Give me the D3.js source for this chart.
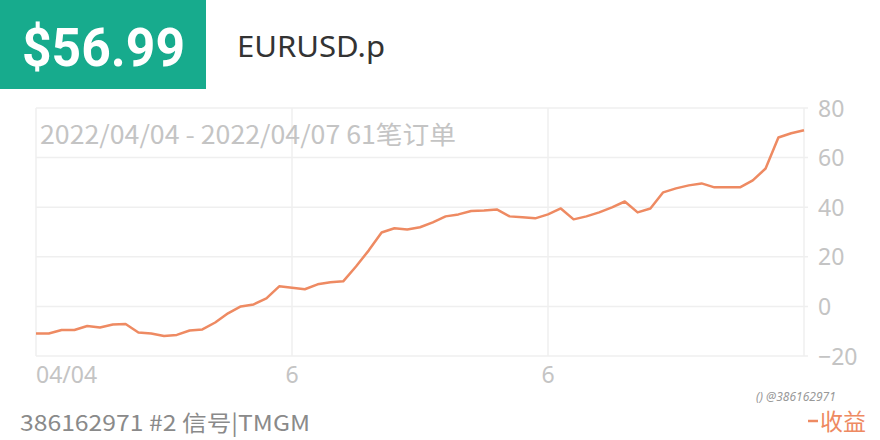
<!DOCTYPE html>
<html><head><meta charset="utf-8">
<script src="https://cdn.jsdelivr.net/npm/d3@7"></script>
<style>body{margin:0;background:#fff;}svg{display:block;}</style>
</head><body>
<svg id="c" width="880" height="440"></svg>
<script>
const profit = [-10.9,-10.9,-9.5,-9.5,-7.9,-8.5,-7.3,-7.1,-10.5,-10.9,-11.9,-11.5,-9.7,-9.3,-6.5,-2.8,0,0.8,3.2,8.1,7.5,6.9,8.9,9.7,10.1,16.1,22.6,29.8,31.5,31.0,31.9,33.9,36.3,37.1,38.5,38.7,39.1,36.3,35.9,35.5,37.1,39.5,35.1,36.3,37.9,39.9,42.3,37.9,39.5,46.0,47.6,48.8,49.6,48.0,48.0,48.0,50.8,55.6,68.1,69.8,71.0];
const yTicks = [-20,0,20,40,60,80];
const xTickIdx = [0,20,40];
const xTickLabels = ["04/04","6","6"];
const xGridIdx = [0,20,40,60];
const title = "$56.99";
const symbol = "EURUSD.p";
const subtitle = "2022/04/04 - 2022/04/07 61笔订单";
const footer = "386162971 #2 信号|TMGM";
const legendLabel = "收益";

const svg = d3.select("#c");
const cjk = "'Noto Sans CJK SC','Noto Sans',sans-serif";
const pL = 36, pR = 805, pT = 108, pB = 356;
const x = d3.scaleLinear().domain([0, profit.length-1]).range([pL, pR-1]);
const y = d3.scaleLinear().domain([-20,80]).range([pB, pT]);
const labelColor = "#c4c4c4";

// header
svg.append("rect").attr("x",0).attr("y",0).attr("width",206).attr("height",89).attr("fill","#17ab8d");
svg.append("text").attr("x",22).attr("y",66).attr("fill","#fff")
  .attr("font-family","Roboto,'Noto Sans',sans-serif").attr("font-weight","bold").attr("font-size",53)
  .attr("textLength",163).attr("lengthAdjust","spacingAndGlyphs")
  .text(title);
svg.append("text").attr("x",237).attr("y",57).attr("fill","#333")
  .attr("font-family","'Noto Sans',Roboto,sans-serif").attr("font-size",29)
  .attr("textLength",148).attr("lengthAdjust","spacingAndGlyphs")
  .text(symbol);

// grid
const g = svg.append("g");
g.selectAll("line.h").data(yTicks).enter().append("line")
  .attr("x1",pL).attr("x2",pR+3).attr("y1",d=>y(d)).attr("y2",d=>y(d))
  .attr("stroke","#efefef").attr("stroke-width",1.5);
g.selectAll("line.v").data(xGridIdx).enter().append("line")
  .attr("x1",d=>x(d)).attr("x2",d=>x(d)).attr("y1",pT).attr("y2",pB)
  .attr("stroke","#efefef").attr("stroke-width",1.5);

// subtitle
svg.append("text").attr("x",40).attr("y",144).attr("fill",labelColor)
  .attr("font-family",cjk).attr("font-size",25)
  .attr("textLength",416).attr("lengthAdjust","spacingAndGlyphs").text(subtitle);

// y axis labels (right)
const yAxis = d3.axisRight(y).tickValues(yTicks).tickSize(0).tickPadding(0);
const ya = svg.append("g").attr("transform",`translate(${pR+13},0)`).call(yAxis);
ya.select(".domain").remove();
ya.selectAll("text").attr("fill",labelColor).attr("font-size",23).attr("font-family","'Noto Sans',sans-serif").attr("dy","0.35em");

// x axis labels
const xa = svg.append("g");
xa.selectAll("text").data(xTickIdx).enter().append("text")
  .attr("x",d=>x(d)).attr("y",383)
  .attr("text-anchor",(d,i)=>i===0?"start":"middle")
  .attr("fill",labelColor).attr("font-size",23).attr("font-family","'Noto Sans',sans-serif")
  .text((d,i)=>xTickLabels[i]);

// line
const line = d3.line().x((d,i)=>x(i)).y(d=>y(d));
svg.append("path").datum(profit).attr("d",line).attr("fill","none")
  .attr("stroke","#ee8a62").attr("stroke-width",2.5).attr("stroke-linejoin","round");

// footer
svg.append("text").attr("x",20).attr("y",431).attr("fill","#8a8a8a")
  .attr("font-family",cjk).attr("font-size",22)
  .attr("textLength",290).attr("lengthAdjust","spacingAndGlyphs").text(footer);

// legend
svg.append("line").attr("x1",808).attr("x2",818).attr("y1",421).attr("y2",421)
  .attr("stroke","#ee8a62").attr("stroke-width",2.5);
svg.append("text").attr("x",820).attr("y",430).attr("fill","#ee8a62")
  .attr("font-family",cjk).attr("font-size",23).text(legendLabel);

// watermark
svg.append("text").attr("x",756).attr("y",401).attr("fill","#999")
  .attr("font-family","'Noto Sans',sans-serif").attr("font-size",12).attr("font-style","italic").text("() @386162971");
</script>
</body></html>
